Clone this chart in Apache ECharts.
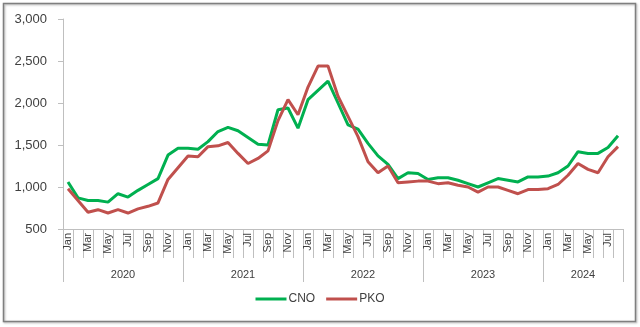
<!DOCTYPE html>
<html>
<head>
<meta charset="utf-8">
<script src="https://cdn.jsdelivr.net/npm/echarts@6/dist/echarts.min.js"></script>
<style>
  html, body { margin: 0; padding: 0; background: #fff; }
  #chart { width: 640px; height: 327px; }
</style>
</head>
<body>
<div id="chart"></div>
<script>
// Monthly prices, Jan 2020 – Aug 2024
const monthNames = ['Jan','Feb','Mar','Apr','May','Jun','Jul','Aug','Sep','Oct','Nov','Dec'];
const years = ['2020', '2021', '2022', '2023', '2024'];
const monthsPerYear = [12, 12, 12, 12, 8];

const cno = [
  1060, 870, 840, 840, 820, 920, 880, 960, 1030, 1100, 1380, 1460,
  1460, 1450, 1540, 1660, 1710, 1670, 1590, 1510, 1500, 1920, 1940, 1700,
  2040, 2150, 2260, 2000, 1740, 1690, 1520, 1370, 1270, 1100, 1170, 1160,
  1090, 1110, 1110, 1080, 1040, 1000, 1050, 1100, 1080, 1060, 1120, 1120,
  1130, 1170, 1250, 1420, 1400, 1400, 1470, 1610
];
const pko = [
  980, 840, 700, 730, 690, 730, 690, 740, 770, 810, 1090, 1230,
  1370, 1360, 1480, 1490, 1530, 1400, 1280, 1340, 1430, 1790, 2040, 1860,
  2190, 2440, 2440, 2080, 1840, 1600, 1300, 1170, 1250, 1050, 1060, 1070,
  1070, 1040, 1050, 1020, 1000, 940, 1000, 1000, 960, 920, 970, 970,
  980, 1030, 1140, 1280, 1210, 1170, 1360, 1480
];
const yTicks = { min: 500, max: 3000, step: 500 };

// Month category labels
const months = [];
monthsPerYear.forEach(n => { for (let i = 0; i < n; i++) months.push(monthNames[i]); });

// Year row: one slot per month boundary, year name at the middle of each block
const yearSlots = new Array(months.length + 1).fill('');
const yearBounds = new Set([0]);
let start = 0;
monthsPerYear.forEach((n, k) => {
  yearSlots[start + n / 2] = years[k];
  start += n;
  yearBounds.add(start);
});

const textColor = '#404040';
const axisGray = '#bfbfbf';
const font = 'Liberation Sans, Arial, sans-serif';

const chart = echarts.init(document.getElementById('chart'), null, { renderer: 'canvas' });
chart.setOption({
  animation: false,
  backgroundColor: '#fff',
  grid: { left: 63, right: 17, top: 19, bottom: 98, containLabel: false },
  xAxis: [
    {
      type: 'category',
      data: months,
      boundaryGap: true,
      axisLine: { show: true, lineStyle: { color: axisGray, width: 1 } },
      axisTick: { show: true, interval: 0, length: 29, lineStyle: { color: axisGray } },
      axisLabel: {
        interval: 1, rotate: 90, margin: 4,
        fontSize: 11, color: textColor, fontFamily: font
      },
      splitLine: { show: false }
    },
    {
      type: 'category',
      data: yearSlots,
      boundaryGap: false,
      position: 'bottom',
      axisLine: { show: false },
      axisTick: {
        show: true, length: 53,
        interval: (i) => yearBounds.has(i),
        lineStyle: { color: axisGray }
      },
      axisLabel: {
        interval: 0, margin: 40,
        fontSize: 11, color: textColor, fontFamily: font
      },
      splitLine: { show: false }
    }
  ],
  yAxis: {
    type: 'value',
    min: yTicks.min, max: yTicks.max, interval: yTicks.step,
    axisLine: { show: true, lineStyle: { color: axisGray } },
    axisTick: { show: true, length: 5, lineStyle: { color: axisGray } },
    axisLabel: {
      margin: 16, fontSize: 13, color: textColor, fontFamily: font,
      formatter: v => v.toLocaleString('en-US')
    },
    splitLine: { show: false }
  },
  legend: {
    bottom: 17,
    left: 'center',
    icon: 'rect',
    itemWidth: 31,
    itemHeight: 3,
    itemGap: 11,
    textStyle: { fontSize: 12, color: textColor, fontFamily: font, padding: [0, 0, 0, -3] },
    data: ['CNO', 'PKO']
  },
  series: [
    {
      name: 'CNO', type: 'line', data: cno, xAxisIndex: 0,
      showSymbol: false, symbol: 'none',
      lineStyle: { color: '#00b050', width: 3 },
      itemStyle: { color: '#00b050' }
    },
    {
      name: 'PKO', type: 'line', data: pko, xAxisIndex: 0,
      showSymbol: false, symbol: 'none',
      lineStyle: { color: '#c0504d', width: 3 },
      itemStyle: { color: '#c0504d' }
    }
  ],
  graphic: [
    {
      type: 'rect', silent: true, z: 100,
      shape: { x: 3.5, y: 3.5, width: 632, height: 318 },
      style: { fill: 'none', stroke: '#7f7f7f', lineWidth: 1.5, shadowBlur: 2, shadowColor: 'rgba(0,0,0,0.3)', shadowOffsetX: 1, shadowOffsetY: 1 }
    }
  ]
});
</script>
</body>
</html>
